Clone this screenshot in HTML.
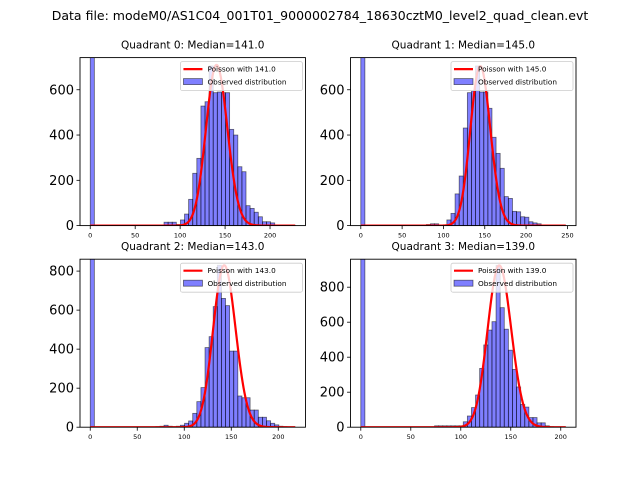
<!DOCTYPE html>
<html><head><meta charset="utf-8">
<style>
html,body{margin:0;padding:0;background:#fff;}
svg{display:block;font-family:"DejaVu Sans","Liberation Sans",sans-serif;}
</style></head>
<body>
<svg id="fig" width="640" height="480" viewBox="0 0 640 480">
<text x="320" y="20" text-anchor="middle" font-size="12.5">Data file: modeM0/AS1C04_001T01_9000002784_18630cztM0_level2_quad_clean.evt</text>
</svg>
<script>
// ---- data ----
const quadNames = ["Quadrant 0","Quadrant 1","Quadrant 2","Quadrant 3"];
const medians = [141.0, 145.0, 143.0, 139.0];
const binMax = [228, 248, 218, 205];
const yMaxes = [742, 742, 861, 960];
const yTicks0 = [0,200,400,600];
const yTicks1 = [0,200,400,600];
const yTicks2 = [0,200,400,600,800];
const yTicks3 = [0,200,400,600,800];
const xTicks0 = [0,50,100,150,200];
const xTicks1 = [0,50,100,150,200,250];
const xTicks2 = [0,50,100,150,200];
const xTicks3 = [0,50,100,150,200];
const counts0 = [5000,0,0,0,0,0,0,0,0,0,0,0,0,0,0,0,3,3,15,15,15,5,25,51,116,231,297,528,547,705,587,590,587,587,425,400,260,238,88,76,59,39,17,17,12,3,3,2,1,1];
const counts1 = [5000,0,0,0,0,0,0,0,0,0,0,0,0,0,0,0,5,8,8,3,3,25,54,140,219,431,587,595,705,590,590,518,390,319,253,128,120,63,61,39,37,17,12,8,3,2,1,1,1,1];
const counts2 = [5000,0,0,0,0,0,0,0,0,0,0,0,0,0,0,0,3,5,10,5,3,5,10,20,32,71,131,203,408,464,618,830,660,623,390,390,160,151,151,88,88,51,51,33,20,12,5,3,1,1];
const counts3 = [5000,0,0,0,0,0,0,0,0,0,0,0,0,0,0,0,0,0,8,8,8,8,8,8,8,31,64,112,184,336,470,555,603,925,683,560,440,330,230,130,115,55,55,25,25,8,3,1,1,1];
const curvePeaks = [710, 705, 830, 925];

const allCounts=[counts0,counts1,counts2,counts3];
const allYT=[yTicks0,yTicks1,yTicks2,yTicks3];
const allXT=[xTicks0,xTicks1,xTicks2,xTicks3];

const NS="http://www.w3.org/2000/svg";
const fig=document.getElementById('fig');
function mk(tag,attrs,parent){const e=document.createElementNS(NS,tag);for(const k in attrs)e.setAttribute(k,attrs[k]);(parent||fig).appendChild(e);return e;}
function lgamma(z){ // Stirling
  if(z<7){let p=1;while(z<7){p*=z;z+=1;}return lgamma(z)-Math.log(p);}
  return (z-0.5)*Math.log(z)-z+0.5*Math.log(2*Math.PI)+1/(12*z)-1/(360*z*z*z);
}
const axW=225.45, axH=168;
const lefts=[80,350.55,80,350.55], tops=[57.6,57.6,259.2,259.2];

for(let q=0;q<4;q++){
  const L=lefts[q],T=tops[q],B=T+axH,R=L+axW;
  const counts=allCounts[q], nb=counts.length, bw=binMax[q]/nb;
  const xmin=-0.05*binMax[q], xmax=binMax[q]*1.05;
  const X=v=>L+(v-xmin)/(xmax-xmin)*axW;
  const Y=v=>B-v/yMaxes[q]*axH;
  const g=mk('g',{});
  
  
  const cid='clip'+q;
  const cp=mk('clipPath',{id:cid},g); mk('rect',{x:L,y:T,width:axW,height:axH},cp);
  const plot=mk('g',{'clip-path':'url(#'+cid+')'},g);
  for(let i=0;i<nb;i++){
    if(counts[i]<=0)continue;
    const x0=X(i*bw),x1=X((i+1)*bw),y=Y(counts[i]);
    const r=mk('rect',{x:x0,y:y,width:x1-x0,height:B-y,fill:'rgba(0,0,255,0.5)',stroke:'rgba(0,0,0,0.55)','stroke-width':0.8},plot);
    
    
  }
  // poisson curve
  const mu=medians[q], norm=curvePeaks[q]*Math.sqrt(2*Math.PI*mu);
  let d='';
  for(let k=0;k<=binMax[q];k++){
    const lp=k*Math.log(mu)-mu-lgamma(k+1);
    const v=norm*Math.exp(lp);
    d+=(k?'L':'M')+X(k).toFixed(2)+','+Y(v).toFixed(2);
  }
  const pl=mk('path',{d:d,fill:'none',stroke:'#ff0000','stroke-width':2.2,'stroke-linejoin':'round'},plot);
  
  
  // frame
  mk('rect',{x:L,y:T,width:axW,height:axH,fill:'none',stroke:'#000','stroke-width':0.9},g);
  // y ticks
  allYT[q].forEach(v=>{
    const y=Y(v);
    mk('line',{x1:L-3.5,x2:L,y1:y,y2:y,stroke:'#000','stroke-width':0.8},g);
    const t=mk('text',{x:L-6,y:y+4.5,'text-anchor':'end','font-size':13},g);
    t.textContent=v;
    
    
  });
  allXT[q].forEach(v=>{
    const x=X(v);
    mk('line',{x1:x,x2:x,y1:B,y2:B+3.5,stroke:'#000','stroke-width':0.8},g);
    const t=mk('text',{x:x,y:B+12,'text-anchor':'middle','font-size':6.5},g);
    t.textContent=v;
    
    
  });
  const tt=mk('text',{x:L+axW/2,y:T-9,'text-anchor':'middle','font-size':10.5},g);
  tt.textContent=quadNames[q]+': Median='+medians[q].toFixed(1);
  
  
  // legend
  const lg=mk('g',{},g);
  
  
  const lx=R-125, ly=T+4;
  mk('rect',{x:lx,y:ly,width:122,height:29,rx:2,fill:'rgba(255,255,255,0.8)',stroke:'#ccc','stroke-width':0.8},lg);
  mk('line',{x1:lx+3,x2:lx+22,y1:ly+7.5,y2:ly+7.5,stroke:'#f00','stroke-width':2.2},lg);
  const t1=mk('text',{x:lx+27,y:ly+10,'font-size':7.3},lg);
  t1.textContent='Poisson with '+medians[q].toFixed(1);
  
  
  mk('rect',{x:lx+3,y:ly+17,width:19,height:6,fill:'rgba(0,0,255,0.5)',stroke:'rgba(0,0,0,0.55)','stroke-width':0.8},lg);
  const t2=mk('text',{x:lx+27,y:ly+23,'font-size':7.3},lg);
  t2.textContent='Observed distribution';
  
  
}
</script>
</body></html>
